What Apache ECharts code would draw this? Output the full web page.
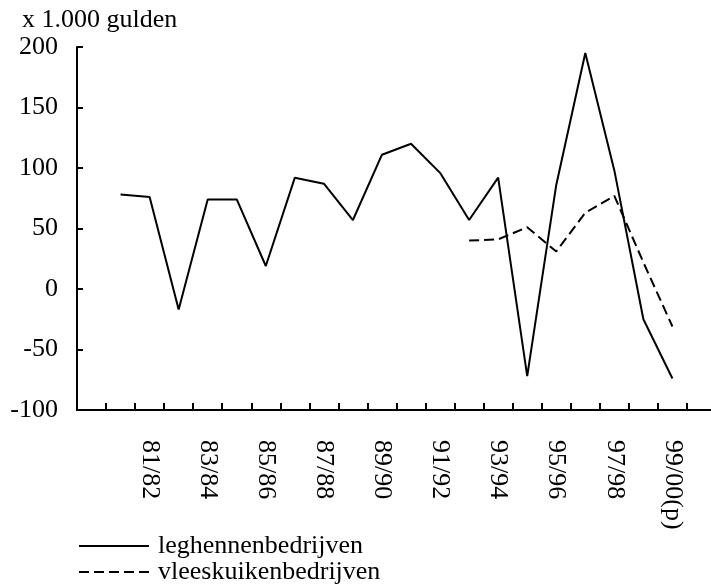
<!DOCTYPE html>
<html>
<head>
<meta charset="utf-8">
<script src="https://cdn.jsdelivr.net/npm/echarts@6/dist/echarts.min.js"></script>
<style>html,body{margin:0;padding:0;background:#fff;}#c{width:711px;height:587px;}</style>
</head>
<body>
<div id="c"></div>
<script>
var categories = ['', '80/81', '81/82', '82/83', '83/84', '84/85', '85/86', '86/87', '87/88', '88/89', '89/90',
  '90/91', '91/92', '92/93', '93/94', '94/95', '95/96', '96/97', '97/98', '98/99', '99/00(p)', ''];
var leghennen = [null, 78, 76, -17, 74, 74, 19, 92, 87, 57, 111, 120, 96, 57, 92, -72, 86, 195, 98, -25, -74, null];
var vleeskuiken = [null, null, null, null, null, null, null, null, null, null, null, null, null, 40, 41, 51, 31, 63, 77, 22, -31, null];
var yTicks = { min: -100, max: 200, interval: 50 };
var unitLabel = 'x 1.000 gulden';
var seriesNames = ['leghennenbedrijven', 'vleeskuikenbedrijven'];

var font = 'Liberation Serif';
var fs = 26;
var chart = echarts.init(document.getElementById('c'));
chart.setOption({
  animation: false,
  backgroundColor: '#fff',
  title: {
    text: unitLabel, left: 17, top: 2,
    textStyle: { fontFamily: font, fontSize: fs, fontWeight: 'normal', color: '#000' }
  },
  grid: { left: 77, right: -5, top: 47, bottom: 177, outerBoundsMode: 'none', containLabel: false },
  legend: {
    orient: 'vertical', left: 78, top: 533, padding: 0, itemGap: 0,
    itemWidth: 70, itemHeight: 14,
    itemStyle: { opacity: 0 },
    textStyle: { fontFamily: font, fontSize: fs, color: '#000', lineHeight: 23, padding: [0, 0, 0, 4] },
    data: seriesNames
  },
  xAxis: {
    type: 'category', data: categories, boundaryGap: true,
    axisLine: { onZero: false, lineStyle: { color: '#000', width: 2 } },
    axisTick: { show: true, inside: false, length: -7, interval: 0, lineStyle: { color: '#000', width: 2 } },
    axisLabel: {
      rotate: -90, margin: 30, fontFamily: font, fontSize: fs, color: '#000',
      interval: function (i, v) { return v !== '' && i % 2 === 0; }
    },
    splitLine: { show: false }
  },
  yAxis: {
    type: 'value', min: yTicks.min, max: yTicks.max, interval: yTicks.interval,
    axisLine: { show: true, lineStyle: { color: '#000', width: 2 } },
    axisTick: { show: true, inside: false, length: -6, lineStyle: { color: '#000', width: 2 } },
    axisLabel: { margin: 19, fontFamily: font, fontSize: fs, color: '#000' },
    splitLine: { show: false }
  },
  series: [
    {
      name: seriesNames[0], type: 'line', data: leghennen, symbol: 'none', connectNulls: false,
      lineStyle: { color: '#000', width: 2 }, itemStyle: { color: '#000' }
    },
    {
      name: seriesNames[1], type: 'line', data: vleeskuiken, symbol: 'none', connectNulls: false,
      lineStyle: { color: '#000', width: 2, type: [10, 5] }, itemStyle: { color: '#000' }
    }
  ]
});
</script>
</body>
</html>
